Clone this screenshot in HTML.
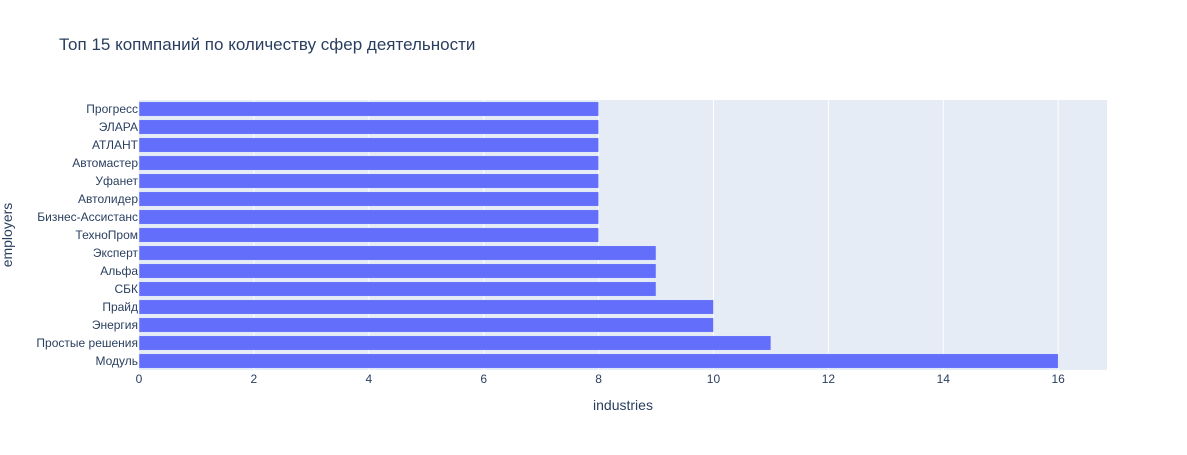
<!DOCTYPE html>
<html><head><meta charset="utf-8"><style>
body{margin:0;background:#fff;font-family:"Liberation Sans",Arial,sans-serif;}
svg text{font-family:"Liberation Sans",Arial,sans-serif;}
</style></head><body>
<svg id="chart" width="1187" height="450">
<rect width="1187" height="450" fill="#fff"/>
<text x="59" y="50" font-size="17" fill="#2a3f5f">Топ 15 копмпаний по количеству сфер деятельности</text>
<rect x="139" y="100" width="968" height="270" fill="#e5ecf6"/>
<g id="grid"></g><g id="bars"></g><g id="xticks"></g><g id="yticks"></g>
<text x="623" y="410" font-size="14" fill="#2a3f5f" text-anchor="middle">industries</text>
<text transform="translate(12,235) rotate(-90)" font-size="14" fill="#2a3f5f" text-anchor="middle">employers</text>
</svg>
<script>
const categories=["Модуль","Простые решения","Энергия","Прайд","СБК","Альфа","Эксперт","ТехноПром","Бизнес-Ассистанс","Автолидер","Уфанет","Автомастер","АТЛАНТ","ЭЛАРА","Прогресс"];
const values=[16,11,10,10,9,9,9,8,8,8,8,8,8,8,8];
const xTicks=[0,2,4,6,8,10,12,14,16];
const x0=139,pw=968,xmax=16.85,y0=100,ph=270;
const ns="http://www.w3.org/2000/svg";
const xs=v=>x0+v/xmax*pw;
const band=ph/categories.length;
const yc=i=>y0+ph-(i+0.5)*band;
function mk(t,a,p){const e=document.createElementNS(ns,t);for(const k in a)e.setAttribute(k,a[k]);document.getElementById(p).appendChild(e);return e;}
xTicks.forEach(t=>{
 if(t>0){const g=mk('line',{x1:xs(t),x2:xs(t),y1:y0,y2:y0+ph,stroke:'#fff','stroke-width':1},'grid');
 
 }
 const l=mk('text',{x:xs(t),y:383,'font-size':12,fill:'#2a3f5f','text-anchor':'middle'},'xticks');l.textContent=t;
 
 
});
categories.forEach((c,i)=>{
 const h=band*0.8;
 const r=mk('rect',{x:x0,y:yc(i)-h/2,width:xs(values[i])-x0,height:h,fill:'#636efa',stroke:'#e5ecf6','stroke-width':0.5},'bars');
 
 
 const l=mk('text',{x:x0-1,y:yc(i)+4,'font-size':12,fill:'#2a3f5f','text-anchor':'end'},'yticks');l.textContent=c;
 
 
});
</script>
</body></html>
